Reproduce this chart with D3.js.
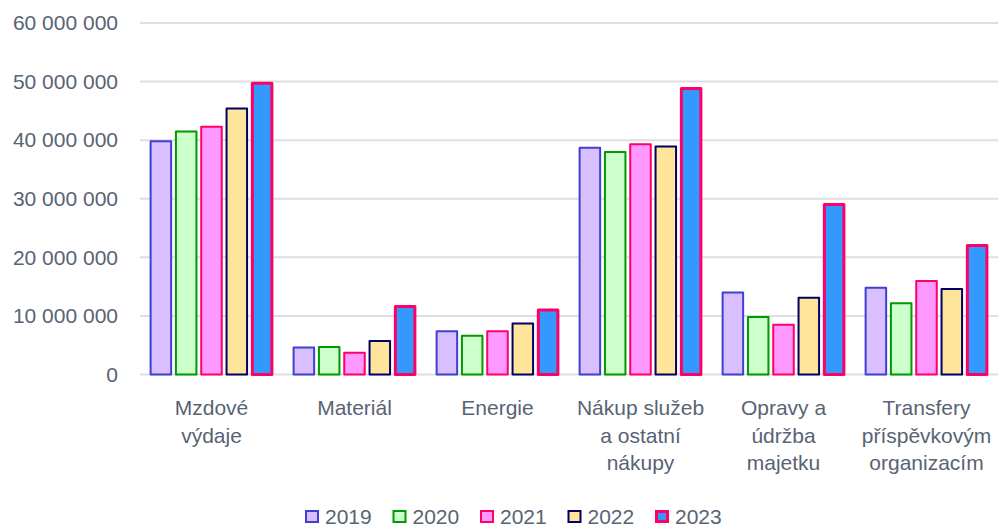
<!DOCTYPE html>
<html>
<head>
<meta charset="utf-8">
<script src="https://cdn.jsdelivr.net/npm/d3@7"></script>
<style>
  html, body { margin: 0; padding: 0; background: #fff; }
  svg { display: block; }
  text { font-family: "Liberation Sans", Arial, sans-serif; }
</style>
</head>
<body>
<svg id="chart" width="998" height="526"></svg>
<script>
const categories = [
  ["Mzdové", "výdaje"],
  ["Materiál"],
  ["Energie"],
  ["Nákup služeb", "a ostatní", "nákupy"],
  ["Opravy a", "údržba", "majetku"],
  ["Transfery", "příspěvkovým", "organizacím"]
];
const years = ["2019", "2020", "2021", "2022", "2023"];
const v2019 = [39800000, 4600000, 7400000, 38700000, 14000000, 14800000];
const v2020 = [41500000, 4700000, 6600000, 38000000, 9800000, 12150000];
const v2021 = [42300000, 3700000, 7400000, 39300000, 8500000, 15950000];
const v2022 = [45400000, 5700000, 8700000, 38900000, 13100000, 14600000];
const v2023 = [49700000, 11600000, 11000000, 48800000, 29000000, 22000000];
const yTicks = [0, 10000000, 20000000, 30000000, 40000000, 50000000, 60000000];

const series = [v2019, v2020, v2021, v2022, v2023];
const fills = ["#d9bfff", "#ccffcc", "#ff99ff", "#ffe599", "#3399ff"];
const strokes = ["#4040d0", "#009900", "#ff0066", "#000066", "#ff0066"];
const strokeW = [2, 2, 2, 2, 3];
const textColor = "#586374";

const svg = d3.select("#chart");
const catKeys = categories.map((c, i) => i);

const x0 = d3.scaleBand().domain(catKeys).range([140, 998]).padding(0);
const x1 = d3.scaleBand().domain(years).range([0, x0.bandwidth()])
  .paddingInner(0.11).paddingOuter(0.38);
const y = d3.scaleLinear().domain([0, 60000000]).range([374.5, 23]);

const fmt = v => d3.format(",")(v).replace(/,/g, " ");

// gridlines
svg.append("g")
  .selectAll("line").data(yTicks).join("line")
  .attr("x1", 140).attr("x2", 998)
  .attr("y1", d => y(d)).attr("y2", d => y(d))
  .attr("stroke", "#dcdfe4").attr("stroke-width", 2);

// y axis labels
const yAxis = d3.axisLeft(y).tickValues(yTicks).tickFormat(fmt).tickSize(0).tickPadding(0);
const ga = svg.append("g").attr("transform", "translate(118,0)").call(yAxis);
ga.select(".domain").remove();
ga.selectAll("text").attr("fill", textColor).style("font-size", "21px")
  .style("font-family", "'Liberation Sans', Arial, sans-serif");

// bars
const groups = svg.append("g").selectAll("g").data(catKeys).join("g")
  .attr("transform", d => `translate(${x0(d)},0)`);
groups.selectAll("rect")
  .data(ci => years.map((yr, si) => ({ yr, si, v: series[si][ci] })))
  .join("rect")
  .attr("x", d => x1(d.yr) + strokeW[d.si] / 2)
  .attr("width", d => x1.bandwidth() - strokeW[d.si])
  .attr("y", d => y(d.v))
  .attr("height", d => y(0) - y(d.v))
  .attr("fill", d => fills[d.si])
  .attr("stroke", d => strokes[d.si])
  .attr("stroke-width", d => strokeW[d.si])
  .attr("stroke-linejoin", "round");

// category labels
const xl = svg.append("g");
categories.forEach((lines, i) => {
  const t = xl.append("text")
    .attr("x", x0(i) + x0.bandwidth() / 2)
    .attr("y", 415)
    .attr("text-anchor", "middle")
    .attr("fill", textColor)
    .style("font-size", "21px");
  lines.forEach((ln, j) => {
    t.append("tspan").attr("x", x0(i) + x0.bandwidth() / 2)
      .attr("y", 415 + j * 27.5).text(ln);
  });
});

// legend
const legX = d3.scalePoint().domain(years).range([305, 655]);
const leg = svg.append("g");
years.forEach((yr, si) => {
  const gx = legX(yr);
  leg.append("rect")
    .attr("x", gx + strokeW[si] / 2).attr("y", 511 + strokeW[si] / 2 - 1)
    .attr("width", 14 - strokeW[si]).attr("height", 13 - strokeW[si])
    .attr("fill", fills[si]).attr("stroke", strokes[si]).attr("stroke-width", strokeW[si]);
  leg.append("text")
    .attr("x", gx + 20).attr("y", 523.5)
    .attr("fill", textColor)
    .style("font-size", "21px")
    .text(yr);
});
</script>
</body>
</html>
